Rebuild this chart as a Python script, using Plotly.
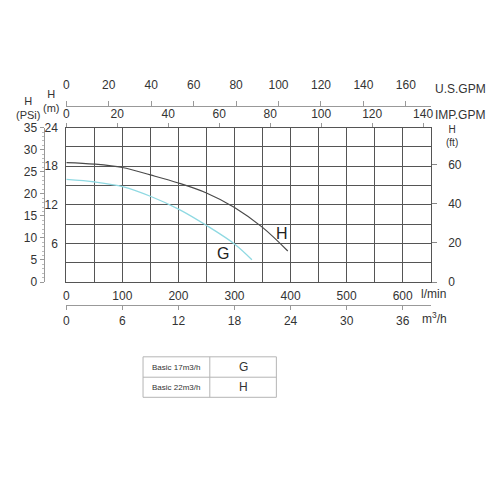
import plotly.graph_objects as go

# ---- data ----
flow_H = [0, 50, 100, 150, 200, 250, 300, 350, 395]          # l/min
head_H = [18.57, 18.33, 17.8, 16.65, 15.4, 13.85, 11.6, 8.5, 4.83]  # m
flow_G = [0, 52, 102, 151, 201, 251, 301, 331]
head_G = [15.95, 15.55, 14.8, 13.3, 11.3, 8.75, 5.85, 3.47]

lmin_ticks = [0, 100, 200, 300, 400, 500, 600]
m3h_ticks = [0, 6, 12, 18, 24, 30, 36]
usgpm_ticks = [0, 20, 40, 60, 80, 100, 120, 140, 160]
impgpm_ticks = [0, 20, 40, 60, 80, 100, 120, 140]
m_ticks = [6, 12, 18, 24]
psi_ticks = [0, 5, 10, 15, 20, 25, 30, 35]
ft_ticks = [0, 20, 40, 60]

table_labels = ["Basic 17m3/h", "Basic 22m3/h"]
table_codes = ["G", "H"]

FLOW_MAX = 650
HEAD_MAX = 24

FONT = "Liberation Sans, Arial, sans-serif"
TXT = "#333333"
GRID = "#555555"
AXL = "#999999"

# page body has an 8px margin: figure is 484x484 placed at (8, 8)
OFF = 8
W = 484

def px(x):
    return (x - OFF) / W

def py(y):
    return 1 - (y - OFF) / W

fig = go.Figure()

fig.add_trace(go.Scatter(x=flow_H, y=head_H, mode="lines", line=dict(color="#4a4a4a", width=1.2, shape="spline"),
                         showlegend=False, hoverinfo="skip"))
fig.add_trace(go.Scatter(x=flow_G, y=head_G, mode="lines", line=dict(color="#8fd9e2", width=1.3, shape="spline"),
                         showlegend=False, hoverinfo="skip"))

# invisible traces so the overlay axes are drawn
for xa, ya in [("x2", "y"), ("x3", "y"), ("x4", "y"), ("x", "y2"), ("x", "y3")]:
    fig.add_trace(go.Scatter(x=[0], y=[0], xaxis=xa, yaxis=ya, mode="markers",
                             marker=dict(opacity=0), showlegend=False, hoverinfo="skip"))

xdom = [px(64), px(433)]
ydom = [py(283), py(124)]

tickfont = dict(family=FONT, size=12, color=TXT)

fig.update_layout(
    width=W, height=W, autosize=False,
    margin=dict(l=0, r=0, t=0, b=0),
    paper_bgcolor="white", plot_bgcolor="white",
    font=dict(family=FONT, color=TXT),
    xaxis=dict(domain=xdom, range=[0, FLOW_MAX], tickvals=lmin_ticks,
               showgrid=True, gridcolor=GRID, gridwidth=1,
               minor=dict(dtick=50, tick0=0, showgrid=True, gridcolor=GRID, gridwidth=1, ticks=""),
               showline=True, mirror=True,
               linecolor=GRID, linewidth=1, ticks="", zeroline=False, tickfont=tickfont,
               ticklabelstandoff=3, anchor="y", fixedrange=True),
    yaxis=dict(domain=ydom, range=[0, HEAD_MAX], tickvals=m_ticks,
               showgrid=True, gridcolor=GRID, gridwidth=1,
               minor=dict(dtick=3, tick0=0, showgrid=True, gridcolor=GRID, gridwidth=1, ticks=""),
               showline=True, mirror=True,
               linecolor=GRID, linewidth=1, ticks="", zeroline=False, tickfont=tickfont,
               ticklabelstandoff=5, anchor="x", fixedrange=True),
    xaxis2=dict(overlaying="x", anchor="free", position=py(307), side="bottom",
                range=[0, FLOW_MAX * 0.06], tickvals=m3h_ticks, showgrid=False,
                showline=True, linecolor=AXL, ticks="outside", ticklen=4, tickcolor=AXL,
                zeroline=False, tickfont=tickfont, fixedrange=True),
    xaxis3=dict(overlaying="x", anchor="free", position=py(102), side="top",
                range=[0, FLOW_MAX / 3.78541], tickvals=usgpm_ticks, showgrid=False,
                showline=True, linecolor=AXL, ticks="outside", ticklen=5, tickcolor=AXL,
                ticklabelstandoff=7,
                zeroline=False, tickfont=tickfont, fixedrange=True),
    xaxis4=dict(overlaying="x", anchor="y", side="top",
                range=[0, FLOW_MAX / 4.54609], tickvals=impgpm_ticks, showgrid=False,
                showline=False, ticks="outside", ticklen=4, tickcolor=AXL,
                zeroline=False, tickfont=tickfont, fixedrange=True),
    yaxis2=dict(overlaying="y", anchor="free", position=px(41), side="left",
                range=[0, 35], tickvals=psi_ticks, showgrid=False,
                showline=True, linecolor=AXL, ticks="outside", ticklen=4, tickcolor=AXL,
                minor=dict(dtick=1, ticks="outside", ticklen=2, tickcolor="#bbbbbb"),
                zeroline=False, tickfont=tickfont, fixedrange=True),
    yaxis3=dict(overlaying="y", anchor="x", side="right",
                range=[0, HEAD_MAX * 3.28084], tickvals=ft_ticks, showgrid=False,
                showline=False, ticks="outside", ticklen=5, tickcolor="#888888",
                ticklabelstandoff=9,
                zeroline=False, tickfont=tickfont, fixedrange=True),
)

ann = []
def a(text, x, y, size=12, xanchor="center"):
    ann.append(dict(text=text, x=px(x), y=py(y), xref="paper", yref="paper", showarrow=False,
                    xanchor=xanchor, yanchor="middle", font=dict(family=FONT, size=size, color=TXT)))

a("U.S.GPM", 435, 84, xanchor="left")
a("IMP.GPM", 435, 111, xanchor="left")
a("l/min", 421, 295, xanchor="left")
a("m<sup>3</sup>/h", 422, 320, xanchor="left")
a("H<br>(PSi)", 25, 104, size=11)
a("H<br>(m)", 49, 97, size=11)
a("H<br>(ft)", 455, 133, size=10)

# curve labels in data coordinates
ann.append(dict(text="H", x=385, y=7.6, xref="x", yref="y", showarrow=False,
                xanchor="center", yanchor="middle",
                font=dict(family=FONT, size=16, color="#222222")))
ann.append(dict(text="G", x=279.5, y=4.48, xref="x", yref="y", showarrow=False,
                xanchor="center", yanchor="middle",
                font=dict(family=FONT, size=16, color="#222222")))

# table
tl, tr, tt, tm, tb, tc = 141.7, 276.7, 360, 381, 401.7, 209.3
row_y = [370.5, 391.3]
for lab, code, ry in zip(table_labels, table_codes, row_y):
    ann.append(dict(text=lab, x=px((tl + tc) / 2), y=py(ry), xref="paper", yref="paper",
                    xanchor="center", yanchor="middle",
                    showarrow=False, font=dict(family=FONT, size=8, color=TXT)))
    ann.append(dict(text=code, x=px((tc + tr) / 2), y=py(ry), xref="paper", yref="paper",
                    xanchor="center", yanchor="middle",
                    showarrow=False, font=dict(family=FONT, size=12, color=TXT)))

shapes = [
    dict(type="rect", xref="paper", yref="paper", x0=px(tl), x1=px(tr), y0=py(tb), y1=py(tt),
         line=dict(color="#b5b5b5", width=1)),
    dict(type="line", xref="paper", yref="paper", x0=px(tl), x1=px(tr), y0=py(tm), y1=py(tm),
         line=dict(color="#b5b5b5", width=1)),
    dict(type="line", xref="paper", yref="paper", x0=px(tc), x1=px(tc), y0=py(tb), y1=py(tt),
         line=dict(color="#b5b5b5", width=1)),
]

fig.update_layout(annotations=ann, shapes=shapes)
fig.write_html("out.html")
